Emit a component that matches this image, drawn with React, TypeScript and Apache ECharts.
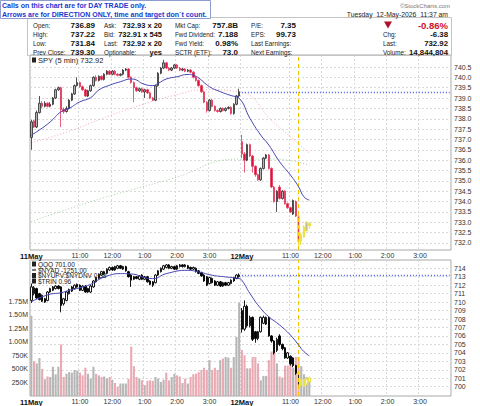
import React, { useEffect, useRef } from "react";
import * as echarts from "echarts";

const FONT = '"Liberation Sans", Arial, sans-serif';
const BARS_PER_DAY = 78;
const DAYS = ["11May", "12May"];

// x-axis tick labels (category index -> text)
const xTickIndex = [0, 18, 30, 42, 54, 66, 78, 96, 108, 120, 132, 144];
const xTickText = ["11May", "11:00", "12:00", "1:00", "2:00", "3:00", "12May", "11:00", "12:00", "1:00", "2:00", "3:00"];

// y-axis tick values
const spyTicks = [732.0, 732.5, 733.0, 733.5, 734.0, 734.5, 735.0, 735.5, 736.0, 736.5, 737.0, 737.5, 738.0, 738.5, 739.0, 739.5, 740.0, 740.5];
const qqqTicks = [700, 701, 702, 703, 704, 705, 706, 707, 708, 709, 710, 711, 712, 713, 714];
const volTicks = [0.25, 0.5, 0.75, 1.0, 1.25, 1.5, 1.75];
const volTickText = ["250K", "500K", "750K", "1.00M", "1.25M", "1.50M", "1.75M"];

// SPY 5-min candles [open, close, low, high]
const spyCandles: number[][] = [
  [737.10, 737.85, 736.50, 737.95], [737.90, 737.60, 737.55, 737.95], [737.60, 738.30, 737.55, 738.40], [738.30, 738.75, 738.25, 739.10],
  [738.75, 738.60, 738.50, 738.85], [738.60, 738.75, 738.55, 738.85], [738.75, 738.60, 738.55, 738.80], [738.60, 738.70, 738.55, 738.80],
  [738.70, 739.00, 738.65, 739.05], [739.00, 739.40, 738.95, 739.45], [739.40, 739.50, 739.35, 739.55], [739.50, 738.45, 737.60, 739.55],
  [738.45, 738.35, 738.25, 738.55], [738.35, 738.50, 738.30, 738.60], [738.50, 738.90, 738.45, 738.95], [738.90, 739.20, 738.85, 739.25],
  [739.20, 739.60, 739.15, 739.65], [739.60, 739.75, 739.55, 740.00], [739.75, 739.55, 739.50, 739.80], [739.55, 739.40, 739.35, 739.60],
  [739.40, 739.10, 739.05, 739.45], [739.10, 739.35, 739.05, 739.40], [739.35, 739.60, 739.30, 739.65], [739.60, 740.00, 739.55, 740.05],
  [740.00, 739.85, 739.80, 740.10], [739.85, 740.05, 739.80, 740.10], [740.05, 739.90, 739.85, 740.10], [739.90, 740.15, 739.85, 740.20],
  [740.15, 740.30, 740.10, 740.35], [740.30, 740.15, 740.10, 740.35], [740.15, 740.30, 740.10, 740.35], [740.30, 740.15, 740.10, 740.35],
  [740.15, 740.10, 740.05, 740.20], [740.10, 740.15, 740.05, 740.20], [740.15, 740.35, 740.10, 740.40], [740.35, 740.40, 740.30, 740.45],
  [740.40, 740.00, 739.95, 740.45], [740.00, 739.75, 739.70, 740.05], [739.75, 739.50, 738.80, 739.80], [739.50, 739.35, 739.30, 739.55],
  [739.35, 739.45, 739.30, 739.50], [739.45, 739.30, 739.25, 739.50], [739.30, 739.40, 739.00, 739.45], [739.40, 739.25, 739.20, 739.45],
  [739.25, 739.00, 738.95, 739.30], [739.00, 738.90, 738.85, 739.05], [738.90, 739.60, 738.85, 739.65], [739.60, 740.20, 739.55, 740.25],
  [740.20, 740.45, 740.15, 740.50], [740.45, 740.70, 740.40, 740.85], [740.70, 740.45, 740.40, 740.75], [740.45, 740.35, 740.30, 740.50],
  [740.35, 740.45, 740.30, 740.50], [740.45, 740.60, 740.40, 740.65], [740.60, 740.45, 740.40, 740.65], [740.45, 740.35, 740.30, 740.50],
  [740.35, 740.40, 740.30, 740.45], [740.40, 740.30, 740.25, 740.45], [740.30, 740.35, 740.25, 740.40], [740.35, 740.25, 740.20, 740.40],
  [740.25, 740.00, 739.95, 740.30], [740.00, 739.85, 739.80, 740.05], [739.85, 739.60, 739.55, 739.90], [739.60, 739.30, 739.25, 739.65],
  [739.30, 738.80, 738.75, 739.35], [738.80, 738.40, 738.30, 738.85], [738.40, 738.90, 738.35, 738.95], [738.90, 738.60, 738.55, 738.95],
  [738.60, 738.40, 738.35, 738.65], [738.40, 738.35, 738.30, 738.45], [738.35, 738.50, 738.30, 738.55], [738.50, 738.40, 738.35, 738.55],
  [738.40, 738.50, 738.35, 738.55], [738.50, 738.55, 738.45, 738.60], [738.55, 738.25, 738.20, 738.60], [738.25, 738.70, 738.20, 738.75],
  [738.70, 739.10, 738.65, 739.15], [739.10, 739.30, 739.05, 739.45],
  [736.89, 736.30, 736.10, 737.22], [736.30, 736.00, 735.40, 736.40], [736.00, 736.75, 735.95, 736.80], [736.75, 736.20, 736.15, 736.80],
  [736.20, 735.70, 735.40, 736.25], [735.70, 735.30, 735.20, 735.75], [735.30, 735.05, 735.00, 735.35], [735.05, 735.60, 735.00, 735.65],
  [735.60, 736.10, 735.55, 736.15], [736.10, 736.25, 736.05, 736.30], [736.25, 735.60, 735.55, 736.30], [735.60, 734.70, 734.65, 735.65],
  [734.70, 734.00, 733.95, 734.75], [734.00, 734.50, 733.50, 734.55], [734.70, 734.15, 734.10, 734.80], [734.15, 734.50, 734.10, 734.55],
  [734.50, 733.90, 733.85, 734.55], [733.90, 733.70, 733.65, 733.95], [733.70, 733.50, 733.45, 733.75], [733.40, 734.05, 733.35, 734.10],
  [734.00, 733.30, 733.25, 734.05], [733.30, 732.10, 731.84, 733.35], [732.10, 732.40, 731.90, 732.50], [732.30, 732.75, 732.25, 732.85],
  [732.60, 733.00, 732.55, 733.05], [732.85, 732.92, 732.70, 733.00],
];

// QQQ 5-min candles [open, close, low, high]
const qqqCandles: number[][] = [
  [710.2, 711.8, 709.9, 712.2], [711.0, 711.7, 710.8, 711.9], [711.6, 710.5, 710.4, 711.7], [711.0, 710.3, 710.2, 711.1],
  [710.8, 710.1, 710.0, 710.9], [710.4, 710.0, 709.9, 710.5], [710.2, 711.2, 710.1, 711.3], [711.2, 711.6, 711.1, 711.7],
  [711.4, 711.8, 711.3, 711.9], [711.6, 711.9, 711.5, 712.0], [711.9, 711.6, 711.5, 712.0], [711.8, 709.6, 708.8, 711.9],
  [709.8, 710.4, 709.6, 710.5], [710.2, 711.2, 710.1, 711.3], [711.0, 711.5, 710.9, 711.6], [711.3, 711.8, 711.2, 711.9],
  [711.6, 712.0, 711.5, 712.1], [712.1, 711.8, 711.7, 712.2], [712.0, 711.4, 711.3, 712.1], [711.4, 711.9, 711.3, 712.0],
  [711.9, 711.2, 711.1, 712.0], [711.6, 711.2, 711.1, 711.7], [711.2, 711.9, 711.1, 712.0], [711.8, 712.5, 711.7, 712.6],
  [712.4, 712.9, 712.3, 713.0], [712.8, 713.3, 712.7, 713.4], [713.2, 713.6, 713.1, 713.7], [713.6, 713.3, 713.2, 713.7],
  [713.4, 713.9, 713.3, 714.0], [713.8, 714.1, 713.7, 714.2], [714.1, 713.8, 713.7, 714.2], [713.8, 714.2, 713.7, 714.3],
  [714.0, 714.3, 713.9, 714.4], [714.3, 714.0, 713.9, 714.4], [713.9, 714.2, 713.8, 714.3], [714.2, 713.7, 713.6, 714.3],
  [713.6, 713.0, 712.9, 713.7], [713.2, 712.6, 711.8, 713.3], [712.7, 713.0, 712.6, 713.1], [713.0, 712.8, 712.7, 713.1],
  [712.7, 713.1, 712.6, 713.2], [713.2, 712.7, 712.6, 713.3], [712.7, 713.0, 712.6, 713.1], [713.0, 712.4, 712.3, 713.1],
  [712.5, 712.1, 712.0, 712.6], [712.4, 712.0, 711.8, 712.5], [712.3, 713.2, 712.2, 713.3], [713.2, 713.7, 713.1, 713.8],
  [713.6, 714.0, 713.5, 714.1], [713.9, 714.3, 713.8, 714.4], [714.1, 714.4, 714.0, 714.5], [714.4, 714.0, 713.9, 714.5],
  [714.0, 714.2, 713.9, 714.3], [714.2, 713.9, 713.8, 714.3], [713.9, 714.3, 713.8, 714.4], [714.2, 714.4, 714.1, 714.5],
  [714.4, 714.2, 714.1, 714.5], [714.2, 714.4, 714.1, 714.5], [714.3, 714.0, 713.9, 714.4], [714.1, 713.9, 713.8, 714.2],
  [713.9, 714.1, 713.8, 714.2], [714.0, 713.6, 713.5, 714.1], [713.7, 713.4, 713.3, 713.8], [713.5, 713.1, 713.0, 713.6],
  [713.2, 712.5, 712.4, 713.3], [713.0, 712.0, 711.9, 713.1], [712.2, 712.9, 712.1, 713.0], [712.8, 712.3, 712.2, 712.9],
  [712.5, 712.0, 711.9, 712.6], [712.0, 712.4, 711.9, 712.5], [712.4, 711.9, 711.8, 712.5], [711.9, 712.3, 711.8, 712.4],
  [712.3, 712.0, 711.9, 712.4], [712.0, 712.3, 711.9, 712.4], [712.2, 712.6, 712.1, 712.7], [712.5, 712.9, 712.4, 713.0],
  [712.8, 713.2, 712.7, 713.3], [713.0, 713.2, 712.9, 713.4],
  [709.0, 706.8, 706.4, 709.3], [706.8, 709.5, 706.6, 710.2], [709.5, 707.2, 707.0, 709.7], [707.2, 708.2, 707.0, 708.4],
  [708.2, 705.6, 705.4, 708.3], [706.5, 705.7, 705.2, 706.6], [705.7, 706.5, 705.5, 706.6], [706.5, 708.2, 706.4, 708.3],
  [707.5, 708.2, 707.4, 708.4], [707.4, 708.2, 707.3, 708.3], [708.2, 706.0, 705.9, 708.3], [706.0, 705.4, 705.2, 706.1],
  [705.4, 704.0, 703.8, 705.5], [704.3, 705.6, 704.1, 705.8], [706.0, 705.0, 704.8, 706.2], [705.0, 704.5, 704.3, 705.1],
  [704.6, 703.4, 703.3, 704.7], [703.4, 704.0, 703.3, 704.1], [703.6, 702.7, 702.5, 703.7], [703.4, 702.5, 702.3, 703.5],
  [702.5, 701.6, 701.4, 702.6], [701.6, 700.2, 699.6, 701.7], [700.2, 700.8, 700.0, 700.9], [700.8, 700.1, 699.9, 700.9],
  [700.3, 700.9, 700.2, 701.0], [700.6, 701.0, 700.5, 701.2],
];

// volume per 5-min bar, millions of shares
const volume = [
  1.48, 0.64, 0.60, 0.70, 0.50, 0.31, 0.36, 0.35, 0.54, 0.40, 0.54, 0.95, 0.35, 0.41, 0.44, 0.43, 0.48, 0.47, 0.43, 0.38,
  0.52, 0.41, 0.32, 0.54, 0.41, 0.38, 0.35, 0.36, 0.32, 0.35, 0.30, 0.24, 0.17, 0.23, 0.23, 0.23, 0.32, 0.91, 0.55, 0.35,
  0.32, 0.29, 0.20, 0.28, 0.29, 0.28, 0.35, 0.32, 0.26, 0.30, 0.43, 0.29, 0.35, 0.41, 0.38, 0.36, 0.24, 0.32, 0.23, 0.35,
  0.40, 0.41, 0.44, 0.48, 0.52, 0.48, 0.66, 0.48, 0.52, 0.48, 0.66, 0.69, 0.72, 0.71, 0.52, 0.72, 1.09, 1.72,
  0.85, 0.75, 0.51, 0.51, 0.72, 0.72, 0.60, 0.29, 0.37, 0.37, 0.66, 0.82, 0.82, 0.60, 0.36, 0.34, 0.56, 0.56, 0.60, 0.52,
  0.72, 0.72, 0.55, 0.40, 0.35, 0.30,
];

// moving averages: [bar index, value]
const spyAvg = [
  [0, 737.21], [3, 737.46], [7, 737.85], [11, 738.34], [14, 738.5], [18, 738.82], [22, 739.02], [25, 739.39], [29, 739.62],
  [33, 739.79], [37, 739.92], [39, 739.87], [41, 739.71], [45, 739.6], [47, 739.71], [50, 739.92], [54, 740.03], [58, 740.14],
  [60, 740.1], [62, 739.97], [66, 739.55], [70, 739.31], [74, 739.12], [77, 738.99], [81, 738.02], [85, 737.21], [88, 736.73],
  [92, 735.92], [96, 735.28], [99, 734.72], [101, 734.23], [103, 734.07],
];
const spySlowAvg = [[0, 736.85], [13, 737.35], [26, 738.0], [39, 738.6], [52, 739.1], [65, 739.4], [77, 739.3], [90, 737.8], [103, 736.35]];
const spyLongAvg = [[0, 733.03], [26, 734.15], [52, 735.1], [77, 736.05], [90, 736.05], [103, 735.75]];
const qqqAvg = [
  [0, 710.04], [7, 710.94], [11, 711.1], [14, 711.4], [18, 711.7], [22, 712.1], [25, 712.67], [29, 713.18], [33, 713.37],
  [38, 713.3], [41, 712.98], [45, 712.78], [50, 713.37], [58, 713.76], [62, 713.57], [67, 713.18], [72, 712.98], [77, 712.78],
  [78, 712.59], [81, 711.02], [85, 709.25], [88, 708.27], [92, 707.29], [96, 706.1], [99, 704.94], [101, 704.15], [103, 703.65],
];
const spyPrevClose = 739.3;
const qqqPrevClose = 713.2;
const markerIndex = 99;
const highlightFrom = 99;

// header table texts
const hdrRows = [25, 34, 43, 52];
const hdrCols = [
  { lx: 33, vx: 95, vs: 8, labels: ["Open:", "High:", "Low:", "Prev Close:"], values: ["736.89", "737.22", "731.84", "739.30"] },
  { lx: 104, vx: 162, vs: 7.5, labels: ["Ask:", "Bid:", "Last:", "Optionable:"], values: ["732.93 x 20", "732.91 x 545", "732.92 x 20", "yes"] },
  { lx: 175, vx: 238, vs: 8, labels: ["Mkt Cap:", "Fwd Dividend:", "Fwd Yield:", "SCTR (ETF):"], values: ["757.8B", "7.188", "0.98%", "73.0"] },
  { lx: 251, vx: 296, vs: 8, labels: ["P/E:", "EPS:", "Last Earnings:", "Next Earnings:"], values: ["7.35", "99.73", "", ""] },
];
const quoteLabels = ["Chg:", "Last:", "Volume:"];
const quoteValues = ["-6.38", "732.92", "14,844,804"];

const RED = "#e0103c";
const PINK = "#e9aab3";
const GRAY = "#b6b6b6";
const GRID = "#d9d9d9";

function buildCategories(): string[] {
  const out: string[] = [];
  for (const d of DAYS) {
    for (let i = 0; i < BARS_PER_DAY; i++) {
      const m = 570 + i * 5;
      out.push(`${d} ${Math.floor(m / 60)}:${String(m % 60).padStart(2, "0")}`);
    }
  }
  return out;
}

function txt(x: number, y: number, text: string, size: number, extra: any = {}) {
  const align = extra.align || "left";
  const style: any = {
    text, x: 0, y: 0, fontSize: size, fontFamily: FONT, fill: extra.fill || "#222",
    fontWeight: extra.bold ? "bold" : "normal",
    align, textAlign: align, verticalAlign: "middle", textVerticalAlign: "middle",
  };
  return { type: "text", x, y, silent: true, z: 100, style };
}

function buildOption() {
  const categories = buildCategories();
  const isTick = (i: number) => xTickIndex.indexOf(i) >= 0;
  const xAxis = (gridIndex: number, margin: number) => ({
    type: "category",
    gridIndex,
    data: categories,
    boundaryGap: true,
    axisLine: { show: false },
    axisTick: { show: false },
    axisLabel: {
      interval: (i: number) => isTick(i),
      formatter: (_v: string, i: number) => {
        const k = xTickIndex.indexOf(i);
        if (k < 0) return "";
        return k === 0 || k === 6 ? `{b|${xTickText[k]}}` : xTickText[k];
      },
      fontSize: 7,
      fontFamily: FONT,
      color: "#333",
      margin,
      rich: { b: { fontWeight: "bold", fontSize: 7.5, fontFamily: FONT, color: "#111" } },
    },
    splitLine: { show: true, interval: (i: number) => isTick(i), lineStyle: { color: GRID, type: [2, 2], width: 1 } },
  });

  const hl = { borderColor: "#ece24a", borderColor0: "#ece24a", borderWidth: 1.2 };
  const spyData = spyCandles.map((c, i) => (i >= highlightFrom ? { value: c, itemStyle: hl } : c));
  const qqqData = qqqCandles.map((c, i) => (i >= highlightFrom ? { value: c, itemStyle: hl } : c));
  const volData = volume.map((v, i) => ({
    value: v,
    itemStyle: { color: spyCandles[i][1] < spyCandles[i][0] ? PINK : GRAY },
  }));

  const yellowLine = { xAxis: markerIndex, lineStyle: { color: "#f2c400", type: [4, 3], width: 1 } };

  const graphics: any[] = [];
  // banner
  graphics.push({ type: "rect", shape: { x: 0.5, y: 0.5, width: 210, height: 18 }, style: { fill: "#fff", stroke: "#8c9ccc", lineWidth: 1 }, z: 99 });
  graphics.push(txt(2, 5.8, "Calls on this chart are for DAY TRADE only.", 7, { bold: true, fill: "#2038d0" }));
  graphics.push(txt(2, 14.2, "Arrows are for DIRECTION ONLY, time and target don`t count.", 7, { bold: true, fill: "#2038d0" }));
  graphics.push(txt(450, 6, "\u00a9StockCharts.com", 6, { align: "right", fill: "#777" }));
  // header box
  graphics.push({ type: "rect", shape: { x: 27.5, y: 17.5, width: 424, height: 38 }, style: { fill: "none", stroke: "#c4c4c4", lineWidth: 1 }, z: 98 });
  graphics.push(txt(448, 14.5, "Tuesday  12-May-2026  11:37 am", 6.8, { align: "right", fill: "#222" }));
  hdrCols.forEach((col) => {
    col.labels.forEach((l, r) => {
      graphics.push(txt(col.lx, hdrRows[r], l, 6.3));
      if (col.values[r]) graphics.push(txt(col.vx, hdrRows[r], col.values[r], col.vs, { align: "right", bold: true, fill: "#111" }));
    });
  });
  graphics.push({ type: "polygon", shape: { points: [[384, 21.5], [392, 21.5], [388, 28.5]] }, style: { fill: "#b0102a" }, z: 100 });
  graphics.push(txt(448, 25, "-0.86%", 9.5, { align: "right", bold: true, fill: "#d01030" }));
  quoteLabels.forEach((l, r) => {
    graphics.push(txt(383, hdrRows[r + 1], l, 6.3));
    graphics.push(txt(448, hdrRows[r + 1], quoteValues[r], 7.8, { align: "right", bold: true, fill: "#111" }));
  });
  // panel legends
  const icon = (x: number, y: number) => ({ type: "rect", shape: { x, y: y - 2.5, width: 4, height: 5 }, style: { fill: "#222" }, z: 100 });
  graphics.push(icon(32, 60));
  graphics.push(txt(38, 60, "SPY (5 min) 732.92", 7.5, { fill: "#222" }));
  graphics.push(icon(32, 264));
  graphics.push(txt(38, 264, "QQQ 701.00", 6.5));
  graphics.push({ type: "line", shape: { x1: 32, y1: 270, x2: 36, y2: 270 }, style: { stroke: "#222", lineWidth: 1.2 }, z: 100 });
  graphics.push(txt(38, 270, "$NYAD -1251.00", 6.5));
  graphics.push(icon(32, 275.5));
  graphics.push(txt(38, 275.5, "$NYUPV:$NYDNV 0.38", 6.5));
  graphics.push(icon(32, 281));
  graphics.push(txt(38, 281, "$TRIN 0.96", 6.5));

  return {
    animation: false,
    backgroundColor: "#fff",
    textStyle: { fontFamily: FONT },
    grid: [
      { left: 30, top: 55, width: 421, height: 195, show: true, borderColor: "#a8a8a8", borderWidth: 1, backgroundColor: "transparent" },
      { left: 30, top: 260, width: 421, height: 136, show: true, borderColor: "#a8a8a8", borderWidth: 1, backgroundColor: "transparent" },
    ],
    xAxis: [xAxis(0, 2), xAxis(1, 2)],
    yAxis: [
      {
        type: "value", gridIndex: 0, position: "right", min: 731.66, max: 741.08, scale: true,
        axisLine: { show: false }, axisTick: { show: false, customValues: spyTicks },
        axisLabel: { customValues: spyTicks, formatter: (v: number) => v.toFixed(1), fontSize: 7, fontFamily: FONT, color: "#333", margin: 3 },
        splitLine: { show: true, lineStyle: { color: GRID, type: [2, 2], width: 1 } },
      },
      {
        type: "value", gridIndex: 1, position: "right", min: 698.9, max: 714.98, scale: true,
        axisLine: { show: false }, axisTick: { show: false, customValues: qqqTicks },
        axisLabel: { customValues: qqqTicks, formatter: (v: number) => String(Math.round(v)), fontSize: 7, fontFamily: FONT, color: "#333", margin: 3 },
        splitLine: { show: true, lineStyle: { color: GRID, type: [2, 2], width: 1 } },
      },
      {
        type: "value", gridIndex: 1, position: "left", min: 0, max: 2.506,
        axisLine: { show: false }, axisTick: { show: false, customValues: volTicks },
        axisLabel: {
          customValues: volTicks,
          formatter: (v: number) => { const k = volTicks.findIndex((t) => Math.abs(t - v) < 1e-6); return k >= 0 ? volTickText[k] : ""; },
          fontSize: 7, fontFamily: FONT, color: "#333", margin: 2,
        },
        splitLine: { show: false },
      },
    ],
    series: [
      { type: "bar", xAxisIndex: 1, yAxisIndex: 2, data: volData, barWidth: "78%", z: 1, silent: true },
      {
        type: "line", xAxisIndex: 0, yAxisIndex: 0, data: spyLongAvg, symbol: "none", smooth: true, z: 2,
        lineStyle: { color: "#a6cfa6", width: 1, type: [1, 2] },
      },
      {
        type: "line", xAxisIndex: 0, yAxisIndex: 0, data: spySlowAvg, symbol: "none", smooth: true, z: 2,
        lineStyle: { color: "#f0aab8", width: 1, type: [1, 2] },
      },
      {
        type: "candlestick", xAxisIndex: 0, yAxisIndex: 0, data: spyData, barWidth: 2, z: 4,
        itemStyle: { color: "#b4b4b4", color0: RED, borderColor: "#2a2a2a", borderColor0: "#e23a5c", borderWidth: 0.8 },
      },
      {
        type: "line", xAxisIndex: 0, yAxisIndex: 0, data: spyAvg, symbol: "none", smooth: true, z: 5,
        lineStyle: { color: "#4646b4", width: 1 },
        markLine: {
          silent: true, symbol: ["none", "none"], label: { show: false },
          lineStyle: { color: "#4a5cf0", type: [1, 2], width: 1.3 },
          data: [[{ coord: [BARS_PER_DAY, spyPrevClose] }, { coord: [categories.length - 1, spyPrevClose] }], yellowLine],
        },
      },
      {
        type: "candlestick", xAxisIndex: 1, yAxisIndex: 1, data: qqqData, barWidth: 2, z: 4,
        itemStyle: { color: "#ffffff", color0: "#000000", borderColor: "#000000", borderColor0: "#000000", borderWidth: 0.9 },
      },
      {
        type: "line", xAxisIndex: 1, yAxisIndex: 1, data: qqqAvg, symbol: "none", smooth: true, z: 5,
        lineStyle: { color: "#4646b4", width: 1 },
        markLine: {
          silent: true, symbol: ["none", "none"], label: { show: false },
          lineStyle: { color: "#4a5cf0", type: [1, 2], width: 1.3 },
          data: [[{ coord: [BARS_PER_DAY, qqqPrevClose] }, { coord: [categories.length - 1, qqqPrevClose] }], yellowLine],
        },
      },
    ],
    graphic: graphics,
  };
}

export default function App() {
  const ref = useRef<HTMLDivElement>(null);
  useEffect(() => {
    const chart = echarts.init(ref.current!, null, { renderer: "svg", width: 480, height: 406 });
    chart.setOption(buildOption() as any);
    return () => chart.dispose();
  }, []);
  return <div ref={ref} style={{ position: "fixed", left: 0, top: 0, width: 480, height: 406, background: "#fff" }} />;
}
